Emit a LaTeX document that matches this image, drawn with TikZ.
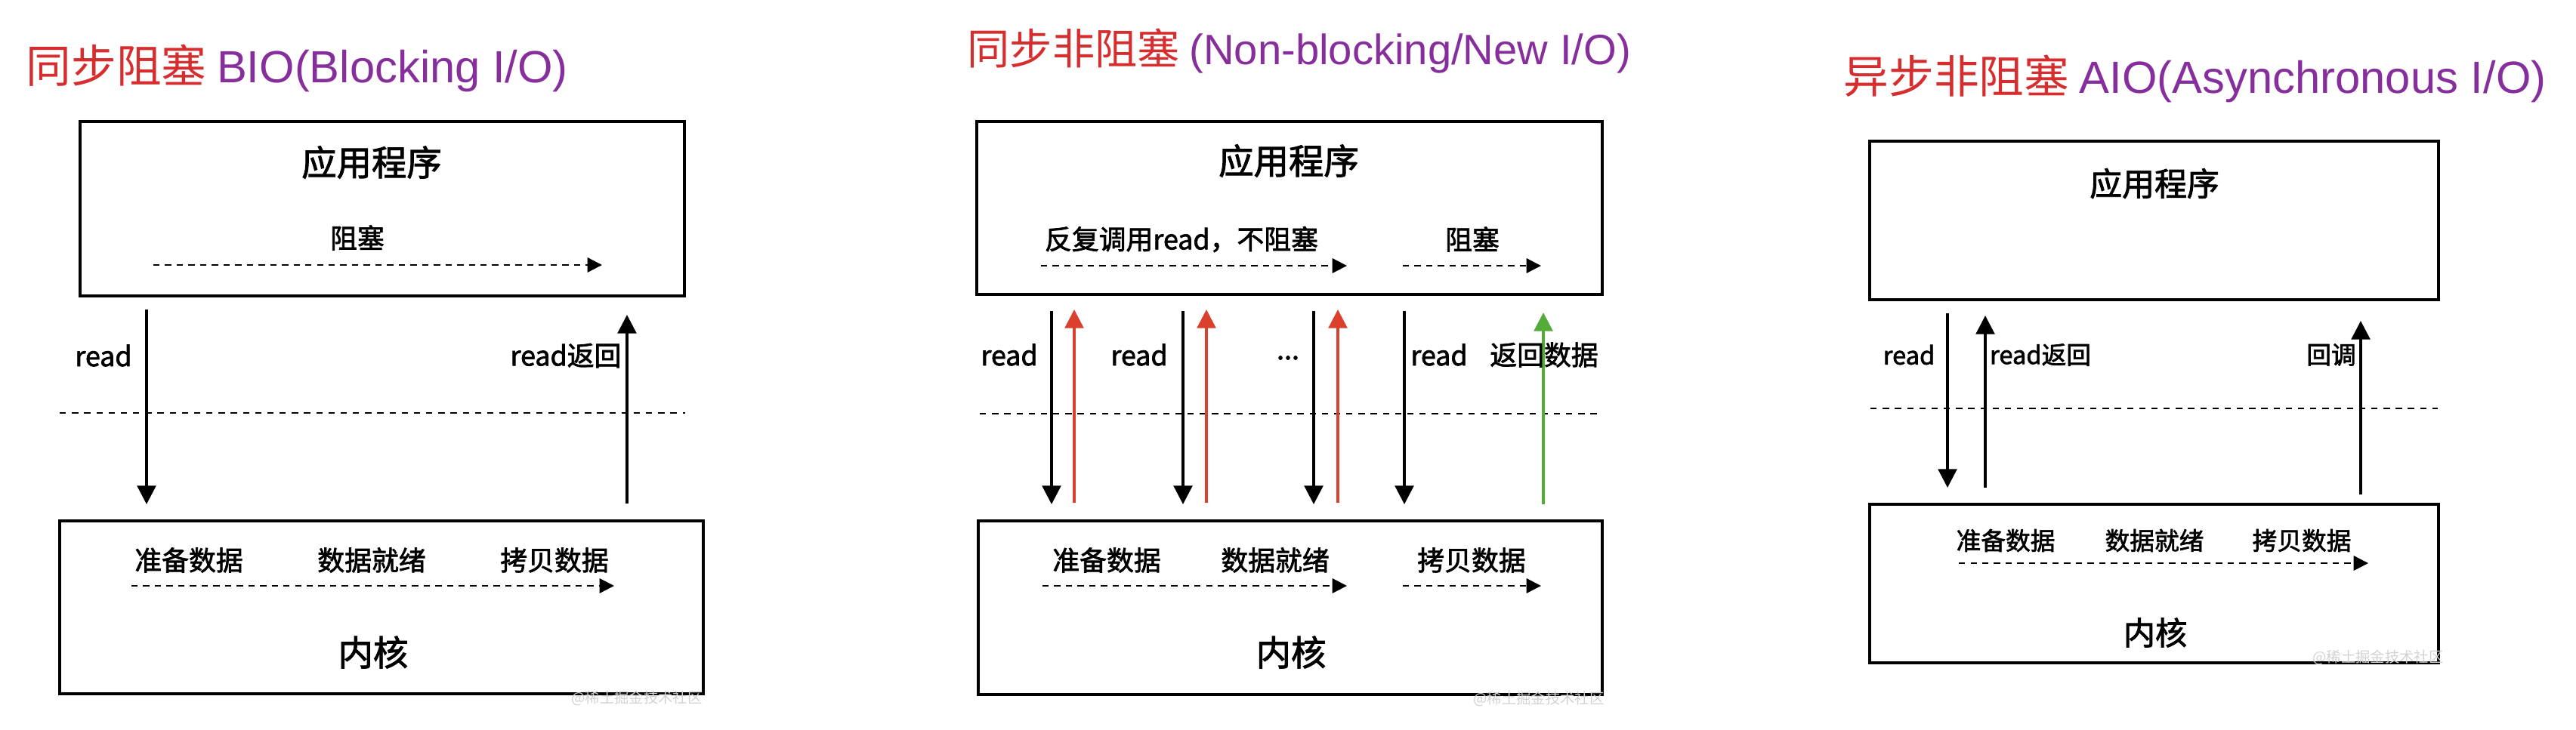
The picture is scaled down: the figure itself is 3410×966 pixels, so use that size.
\documentclass[tikz,border=0pt]{standalone}
\usepackage{fontspec}
\setmainfont{Noto Sans CJK SC}
\newfontfamily\latin{Liberation Sans}
\newfontfamily\boxfont{Noto Sans CJK SC}[FakeBold=2]
\usepackage{xcolor}
\usetikzlibrary{arrows.meta}
\definecolor{titlered}{RGB}{214,46,46}
\definecolor{titlepurple}{RGB}{135,46,157}
\definecolor{backred}{RGB}{218,64,44}
\definecolor{datagreen}{RGB}{84,172,56}

\begin{document}
\begin{tikzpicture}[x=0.1mm, y=-0.1mm,
  layer/.style={draw, line width=1.1pt, inner sep=0pt},
  heading/.style={anchor=base west, inner sep=0pt, font=\fontsize{#1}{#1}\selectfont},
  lbl/.style={inner sep=0pt, font=\boxfont\fontsize{#1}{#1}\selectfont},
  lbl/.default=10.2,
  big/.style={inner sep=0pt, font=\boxfont\fontsize{#1}{#1}\selectfont},
  big/.default=13.2,
  flow/.style={dash pattern=on 2.4pt off 2pt, line width=0.65pt, -{Triangle[length=5.5pt,width=5.5pt]}},
  border/.style={dash pattern=on 2.4pt off 2.2pt, line width=0.65pt},
  call/.style={line width=1pt, -{Triangle[length=7pt,width=7pt]}},
  wmark/.style={inner sep=0pt, text=gray!35, font=\fontsize{5.5}{6}\selectfont}]
  \useasboundingbox (0,0) rectangle (3410,966);

  \node[heading=17] (t1) at (34,109) {\textcolor{titlered}{同步阻塞} \textcolor{titlepurple}{\latin BIO(Blocking I/O)}};
  \node[layer, minimum width=80mm, minimum height=23.1mm] (app1) at (506,276.5) {};
  \node[big] (app1t) at (492,215) {应用程序};
  \node[lbl] (blk1) at (473,315) {阻塞};
  \coordinate (blk1a) at (203,351);
  \coordinate (blk1b) at (797,351);
  \draw[flow] (blk1a) -- (blk1b);
  \node[layer, minimum width=85.2mm, minimum height=22.9mm] (ker1) at (505,804.5) {};
  \node[lbl] (prep1) at (250,742) {准备数据};
  \node[lbl] (ready1) at (492,742) {数据就绪};
  \node[lbl] (copy1) at (734,742) {拷贝数据};
  \coordinate (kf1a) at (174,776);
  \coordinate (kf1b) at (813,776);
  \draw[flow] (kf1a) -- (kf1b);
  \node[big] (ker1t) at (494,864) {内核};
  \coordinate (sep1a) at (79,547);
  \coordinate (sep1b) at (907,547);
  \draw[border] (sep1a) -- (sep1b);
  \coordinate (rd1a) at (194,410);
  \coordinate (rd1b) at (194,668);
  \draw[call] (rd1a) -- (rd1b);
  \coordinate (rt1a) at (830,667);
  \coordinate (rt1b) at (830,417);
  \draw[call] (rt1a) -- (rt1b);
  \node[lbl] (rd1) at (137,471) {read};
  \node[lbl] (rt1) at (749,471) {read返回};
  \node[wmark] (wm1) at (843,925) {@稀土掘金技术社区};

  \node[heading=16] (t2) at (1280,85) {\textcolor{titlered}{同步非阻塞} \textcolor{titlepurple}{\latin (Non-blocking/New I/O)}};
  \node[layer, minimum width=82.8mm, minimum height=22.9mm] (app2) at (1707,275.5) {};
  \node[big] (app2t) at (1706,213) {应用程序};
  \node[lbl] (poll2) at (1564,317) {反复调用read，不阻塞};
  \node[lbl] (blk2) at (1949,317) {阻塞};
  \coordinate (pf2a) at (1378,352);
  \coordinate (pf2b) at (1783,352);
  \draw[flow] (pf2a) -- (pf2b);
  \coordinate (bf2a) at (1857,352);
  \coordinate (bf2b) at (2040,352);
  \draw[flow] (bf2a) -- (bf2b);
  \node[layer, minimum width=82.6mm, minimum height=23mm] (ker2) at (1708,805) {};
  \node[lbl] (prep2) at (1465,742) {准备数据};
  \node[lbl] (ready2) at (1688,742) {数据就绪};
  \node[lbl] (copy2) at (1948,742) {拷贝数据};
  \coordinate (kf2a) at (1380,776);
  \coordinate (kf2b) at (1783,776);
  \draw[flow] (kf2a) -- (kf2b);
  \coordinate (cf2a) at (1857,776);
  \coordinate (cf2b) at (2040,776);
  \draw[flow] (cf2a) -- (cf2b);
  \node[big] (ker2t) at (1709,864) {内核};
  \coordinate (sep2a) at (1297,548);
  \coordinate (sep2b) at (2120,548);
  \draw[border] (sep2a) -- (sep2b);
  \foreach \i/\x in {1/1392,2/1566,3/1739,4/1859} {
    \coordinate (dn\i) at (\x,412);
    \coordinate (dn\i e) at (\x,668);
    \draw[call] (dn\i) -- (dn\i e);
  }
  \foreach \i/\x in {1/1422,2/1597,3/1771} {
    \coordinate (up\i) at (\x,666);
    \coordinate (up\i e) at (\x,410);
    \draw[call, backred] (up\i) -- (up\i e);
  }
  \coordinate (ok2a) at (2043,668);
  \coordinate (ok2b) at (2043,414);
  \draw[call, datagreen] (ok2a) -- (ok2b);
  \node[lbl] (rd2a) at (1336,470) {read};
  \node[lbl] (rd2b) at (1508,470) {read};
  \node[lbl] (rd2c) at (1705,474) {...};
  \node[lbl] (rd2d) at (1905,470) {read};
  \node[lbl] (ret2) at (2044,470) {返回数据};
  \node[wmark] (wm2) at (2037,926) {@稀土掘金技术社区};

  \node[heading=17] (t3) at (2440,123) {\textcolor{titlered}{异步非阻塞} \textcolor{titlepurple}{\latin AIO(Asynchronous I/O)}};
  \node[layer, minimum width=75.3mm, minimum height=21mm] (app3) at (2851.5,292) {};
  \node[big=12.2] (app3t) at (2852,243) {应用程序};
  \node[layer, minimum width=75.3mm, minimum height=21mm] (ker3) at (2851.5,773) {};
  \node[lbl=9.3] (prep3) at (2655,716) {准备数据};
  \node[lbl=9.3] (ready3) at (2852,716) {数据就绪};
  \node[lbl=9.3] (copy3) at (3047,716) {拷贝数据};
  \coordinate (kf3a) at (2593,746);
  \coordinate (kf3b) at (3135,746);
  \draw[flow] (kf3a) -- (kf3b);
  \node[big=12] (ker3t) at (2853,838) {内核};
  \coordinate (sep3a) at (2476,541);
  \coordinate (sep3b) at (3227,541);
  \draw[border] (sep3a) -- (sep3b);
  \coordinate (rd3a) at (2578,415);
  \coordinate (rd3b) at (2578,646);
  \draw[call] (rd3a) -- (rd3b);
  \coordinate (rt3a) at (2628,646);
  \coordinate (rt3b) at (2628,418);
  \draw[call] (rt3a) -- (rt3b);
  \coordinate (cb3a) at (3125,655);
  \coordinate (cb3b) at (3125,425);
  \draw[call] (cb3a) -- (cb3b);
  \node[lbl=9.3] (rd3) at (2527,470) {read};
  \node[lbl=9.3] (rt3) at (2701,470) {read返回};
  \node[lbl=9.3] (cb3) at (3086,470) {回调};
  \node[wmark] (wm3) at (3148,871) {@稀土掘金技术社区};
\end{tikzpicture}
\end{document}
